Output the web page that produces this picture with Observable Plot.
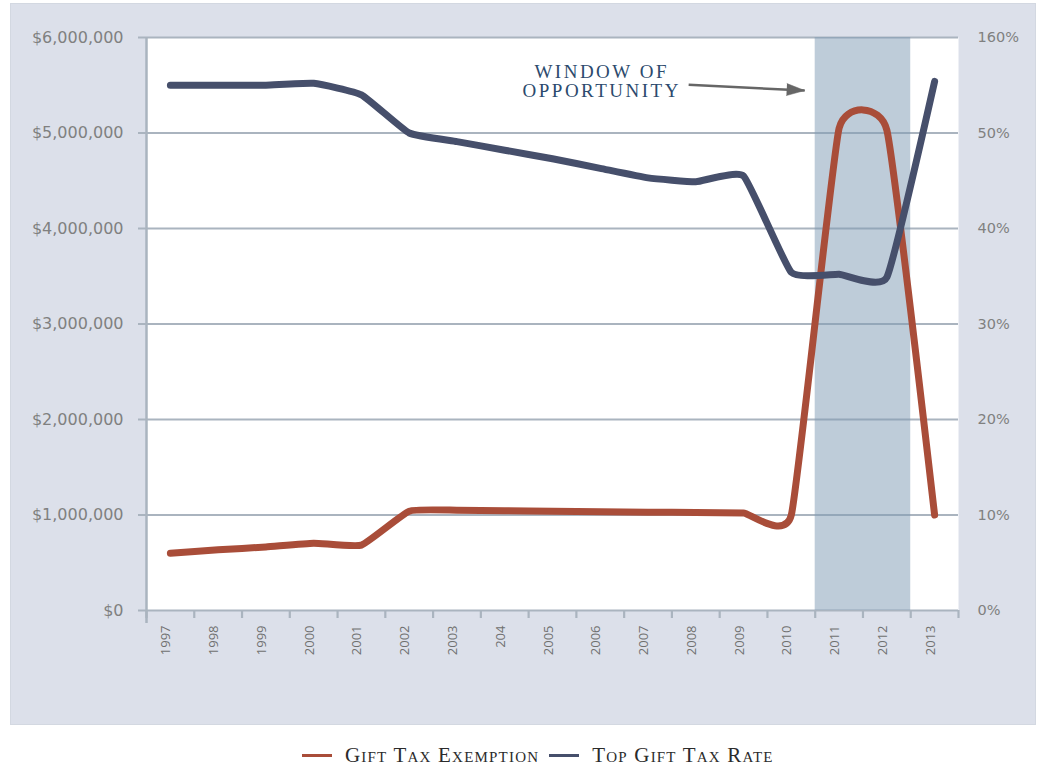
<!DOCTYPE html>
<html>
<head>
<meta charset="utf-8">
<script src="https://cdn.jsdelivr.net/npm/d3@7"></script>
<script src="https://cdn.jsdelivr.net/npm/@observablehq/plot@0.6"></script>
<style>
  html, body { margin: 0; padding: 0; background: #ffffff; }
  #wrap { position: relative; width: 1041px; height: 765px; overflow: hidden; }
  #panel { position: absolute; left: 10px; top: 3px; width: 1024px; height: 720px; background: #dce0ea; border: 1px solid #d3d8e1; }
  #chart { position: absolute; left: 0; top: 0; }
  #legend { position: absolute; left: 302px; top: 740px; height: 30px; display: flex; align-items: center;
    font-family: "Liberation Serif", "DejaVu Serif", serif; font-variant: small-caps; font-size: 21px; letter-spacing: 1.2px; color: #2b2b2b; white-space: nowrap; }
  .sw { display: inline-block; width: 30px; height: 3px; margin-right: 13px; }
</style>
</head>
<body>
<div id="wrap">
  <div id="panel"></div>
  <div id="chart"></div>
  <div id="legend"></div>
</div>
<script>
// ---- data ----
const years = [1997, 1998, 1999, 2000, 2001, 2002, 2003, 2004, 2005, 2006, 2007, 2008, 2009, 2010, 2011, 2012, 2013];
const yearLabels = ["1997", "1998", "1999", "2000", "2001", "2002", "2003", "204", "2005", "2006", "2007", "2008", "2009", "2010", "2011", "2012", "2013"];
const giftTaxExemption = [600000, 635000, 665000, 705000, 685000, 1040000, 1050000, 1045000, 1040000, 1035000, 1030000, 1025000, 1020000, 1000000, 5050000, 5030000, 1000000];
const topGiftTaxRate = [55, 55, 55, 55.2, 54.0, 50, 49.1, 48.2, 47.3, 46.3, 45.3, 44.9, 45.5, 35.4, 35.2, 34.9, 55.4];
const leftTicks = [0, 1000000, 2000000, 3000000, 4000000, 5000000, 6000000];
const leftTickLabels = ["$0", "$1,000,000", "$2,000,000", "$3,000,000", "$4,000,000", "$5,000,000", "$6,000,000"];
const rightTickLabels = ["0%", "10%", "20%", "30%", "40%", "50%", "160%"];
const windowYears = [2011, 2012];
const seriesNames = ["Gift Tax Exemption", "Top Gift Tax Rate"];
const seriesColors = ["#a94d39", "#464f6b"];
const annotationLines = ["WINDOW OF", "OPPORTUNITY"];
const annotationAt = [{year: 2006.03, value: 5640000}, {year: 2006.03, value: 5440000}];
const arrowFrom = {year: 2007.85, value: 5505000};
const arrowTo = {year: 2010.28, value: 5445000};

// ---- derived tables ----
const rateScale = 100000; // 10% on the right axis == $1,000,000 on the left axis
const exemptionRows = years.map((y, i) => ({year: y, value: giftTaxExemption[i]}));
const rateRows = years.map((y, i) => ({year: y, value: topGiftTaxRate[i] * rateScale}));
const bandEdges = years.map(y => y - 0.5).concat([years[years.length - 1] + 0.5]);
const xDomain = [bandEdges[0], bandEdges[bandEdges.length - 1]];

const gridColor = "#aab4bf";
const labelColor = "#808080";
const sans = "'DejaVu Sans', 'Noto Sans', sans-serif";
const serif = "'Liberation Serif', 'DejaVu Serif', serif";

const plot = Plot.plot({
  width: 1041,
  height: 730,
  marginLeft: 146,
  marginRight: 83,
  marginTop: 37,
  marginBottom: 120,
  style: {background: "transparent", overflow: "visible"},
  x: {domain: xDomain, axis: null},
  y: {domain: [0, 6000000], axis: null},
  marks: [
    Plot.frame({fill: "white", stroke: "none"}),
    Plot.ruleY(leftTicks, {stroke: gridColor, strokeWidth: 2.2, insetLeft: -8}),
    Plot.ruleX([xDomain[0]], {stroke: gridColor, strokeWidth: 2.5, insetBottom: -13}),
    Plot.ruleX(bandEdges, {y1: 0, y2: 0, insetBottom: -8, stroke: gridColor, strokeWidth: 2.2}),
    Plot.rect([windowYears], {x1: d => d[0] - 0.5, x2: d => d[1] + 0.5, y1: 0, y2: 6000000, fill: "#7d9ab3", fillOpacity: 0.5}),
    Plot.line(exemptionRows, {x: "year", y: "value", stroke: seriesColors[0], strokeWidth: 7, strokeLinecap: "round", strokeLinejoin: "round", curve: "cardinal", tension: 0.6}),
    Plot.line(rateRows, {x: "year", y: "value", stroke: seriesColors[1], strokeWidth: 7, strokeLinecap: "round", strokeLinejoin: "round", curve: "cardinal", tension: 0.6}),
    Plot.text(leftTicks, {y: d => d, text: (d, i) => leftTickLabels[i], frameAnchor: "left", dx: -23, textAnchor: "end", fill: labelColor, fontFamily: sans, fontSize: 16}),
    Plot.text(leftTicks, {y: d => d, text: (d, i) => rightTickLabels[i], frameAnchor: "right", dx: 19, textAnchor: "start", fill: labelColor, fontFamily: sans, fontSize: 14.5}),
    Plot.text(years, {x: d => d, text: (d, i) => yearLabels[i], frameAnchor: "bottom", dy: 15, rotate: -90, textAnchor: "end", fill: "#707070", fontFamily: "'Open Sans', 'Noto Sans', sans-serif", fontSize: 13}),
    Plot.text(annotationAt, {x: "year", y: "value", text: (d, i) => annotationLines[i], fill: "#2c4a6d", fontFamily: serif, fontSize: 19, textAnchor: "middle"}),
    Plot.link([{a: arrowFrom, b: arrowTo}], {x1: d => d.a.year, y1: d => d.a.value, x2: d => d.b.year, y2: d => d.b.value, stroke: "#666666", strokeWidth: 2.5}),
    Plot.vector([arrowTo], {x: "year", y: "value", shape: "spike", length: 18, r: 6, rotate: 93, anchor: "end", fill: "#666666", stroke: "#666666", strokeWidth: 0.5})
  ]
});

d3.select(plot).selectAll("text").filter(function() {
  return annotationLines.includes(this.textContent);
}).style("letter-spacing", "2.5px");
document.getElementById("chart").appendChild(plot);

// ---- legend ----
const legend = document.getElementById("legend");
seriesNames.forEach((name, i) => {
  const sw = document.createElement("span");
  sw.className = "sw";
  sw.style.background = seriesColors[i];
  const tx = document.createElement("span");
  tx.textContent = name;
  tx.style.marginRight = i === 0 ? "10px" : "0";
  legend.appendChild(sw);
  legend.appendChild(tx);
});
</script>
</body>
</html>
